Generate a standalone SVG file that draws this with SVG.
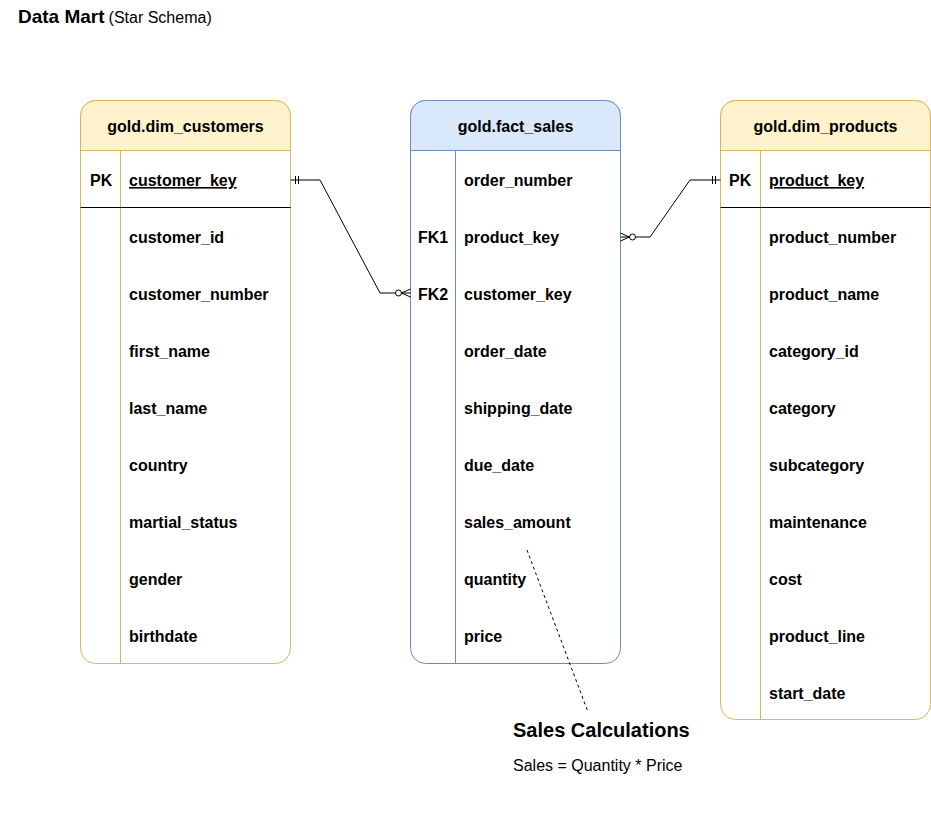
<svg xmlns="http://www.w3.org/2000/svg" width="931" height="833" viewBox="0 0 931 833">
  <style>
    text { font-family: "Liberation Sans", Arial, sans-serif; fill: #000; }
    .title { font-size: 19px; font-weight: bold; }
    .sub { font-size: 16px; }
    .hdr { font-size: 16px; font-weight: bold; text-anchor: middle; }
    .fld { font-size: 16px; font-weight: bold; }
    .key { text-decoration: underline; }
    .note-h { font-size: 20px; font-weight: bold; }
    .note { font-size: 16px; }
    .dim-body { fill: #ffffff; stroke: #d6b656; stroke-width: 1; }
    .dim-head { fill: #fff2cc; stroke: #d6b656; stroke-width: 1; }
    .dim-line { stroke: #d6b656; stroke-width: 1; }
    .fact-body { fill: #ffffff; stroke: #6c8ebf; stroke-width: 1; }
    .fact-head { fill: #dae8fc; stroke: #6c8ebf; stroke-width: 1; }
    .fact-line { stroke: #6c8ebf; stroke-width: 1; }
    .pk-line { stroke: #000; stroke-width: 1; }
    .rel { fill: none; stroke: #000; stroke-width: 1; marker-start: var(--ms); }
    .dash { fill: none; stroke: #000; stroke-width: 1; stroke-dasharray: 3 3; }
  </style>
  <defs>
    <!-- entity edge sits at x=0, the line approaches from negative x -->
    <marker id="mandOne" markerUnits="userSpaceOnUse" orient="auto-start-reverse" refX="0" refY="0" markerWidth="20" markerHeight="20" overflow="visible">
      <path d="M-5,-4 V4 M-8,-4 V4" fill="none" stroke="#000" stroke-width="1"/>
    </marker>
    <marker id="zeroMany" markerUnits="userSpaceOnUse" orient="auto-start-reverse" refX="0" refY="0" markerWidth="20" markerHeight="20" overflow="visible">
      <path d="M0,-4 L-9,0 L0,4" fill="none" stroke="#000" stroke-width="1"/>
      <circle cx="-12" cy="0" r="3" fill="#fff" stroke="#000" stroke-width="1"/>
    </marker>
  </defs>

  <rect width="931" height="833" fill="#ffffff"/>

  <!-- heading -->
  <text x="18" y="23"><tspan class="title">Data Mart</tspan><tspan class="sub" dx="4">(Star Schema)</tspan></text>

  <!-- customers dimension -->
  <g id="dim_customers">
    <rect class="dim-body" x="80.5" y="100.5" width="210" height="563" rx="15" ry="15"/>
    <path class="dim-head" d="M80.5,150.5 V115.5 A15,15 0 0 1 95.5,100.5 H275.5 A15,15 0 0 1 290.5,115.5 V150.5 Z"/>
    <line class="dim-line" x1="120.5" y1="150.5" x2="120.5" y2="663.5"/>
    <line class="pk-line" x1="80.5" y1="207.5" x2="290.5" y2="207.5"/>
    <text class="hdr" x="185.5" y="132">gold.dim_customers</text>
    <text class="fld" x="90" y="186">PK</text>
    <text class="fld key" x="129" y="186">customer_key</text>
    <text class="fld" x="129" y="243">customer_id</text>
    <text class="fld" x="129" y="300">customer_number</text>
    <text class="fld" x="129" y="357">first_name</text>
    <text class="fld" x="129" y="414">last_name</text>
    <text class="fld" x="129" y="471">country</text>
    <text class="fld" x="129" y="528">martial_status</text>
    <text class="fld" x="129" y="585">gender</text>
    <text class="fld" x="129" y="642">birthdate</text>
  </g>

  <!-- sales fact -->
  <g id="fact_sales">
    <rect class="fact-body" x="410.5" y="100.5" width="210" height="563" rx="15" ry="15"/>
    <path class="fact-head" d="M410.5,150.5 V115.5 A15,15 0 0 1 425.5,100.5 H605.5 A15,15 0 0 1 620.5,115.5 V150.5 Z"/>
    <line class="fact-line" x1="455.5" y1="150.5" x2="455.5" y2="663.5"/>
    <text class="hdr" x="515.5" y="132">gold.fact_sales</text>
    <text class="fld" x="464" y="186">order_number</text>
    <text class="fld" x="418" y="243">FK1</text>
    <text class="fld" x="464" y="243">product_key</text>
    <text class="fld" x="418" y="300">FK2</text>
    <text class="fld" x="464" y="300">customer_key</text>
    <text class="fld" x="464" y="357">order_date</text>
    <text class="fld" x="464" y="414">shipping_date</text>
    <text class="fld" x="464" y="471">due_date</text>
    <text class="fld" x="464" y="528">sales_amount</text>
    <text class="fld" x="464" y="585">quantity</text>
    <text class="fld" x="464" y="642">price</text>
  </g>

  <!-- products dimension -->
  <g id="dim_products">
    <rect class="dim-body" x="720.5" y="100.5" width="210" height="619" rx="15" ry="15"/>
    <path class="dim-head" d="M720.5,150.5 V115.5 A15,15 0 0 1 735.5,100.5 H915.5 A15,15 0 0 1 930.5,115.5 V150.5 Z"/>
    <line class="dim-line" x1="760.5" y1="150.5" x2="760.5" y2="719.5"/>
    <line class="pk-line" x1="720.5" y1="207.5" x2="930.5" y2="207.5"/>
    <text class="hdr" x="825.5" y="132">gold.dim_products</text>
    <text class="fld" x="729" y="186">PK</text>
    <text class="fld key" x="769" y="186">product_key</text>
    <text class="fld" x="769" y="243">product_number</text>
    <text class="fld" x="769" y="300">product_name</text>
    <text class="fld" x="769" y="357">category_id</text>
    <text class="fld" x="769" y="414">category</text>
    <text class="fld" x="769" y="471">subcategory</text>
    <text class="fld" x="769" y="528">maintenance</text>
    <text class="fld" x="769" y="585">cost</text>
    <text class="fld" x="769" y="642">product_line</text>
    <text class="fld" x="769" y="699">start_date</text>
  </g>

  <!-- relationships -->
  <g id="connectors">
    <path fill="none" stroke="#000" stroke-width="1" d="M290.5,180 H320 L380,293 H410.5" marker-start="url(#mandOne)" marker-end="url(#zeroMany)"/>
    <path fill="none" stroke="#000" stroke-width="1" d="M620.5,237 H650 L690,180 H720.5" marker-start="url(#zeroMany)" marker-end="url(#mandOne)"/>
    <path class="dash" d="M527,550 L588,712"/>
  </g>

  <!-- annotation -->
  <g id="sales_note">
    <text class="note-h" x="513" y="737">Sales Calculations</text>
    <text class="note" x="513" y="771">Sales = Quantity * Price</text>
  </g>
</svg>
